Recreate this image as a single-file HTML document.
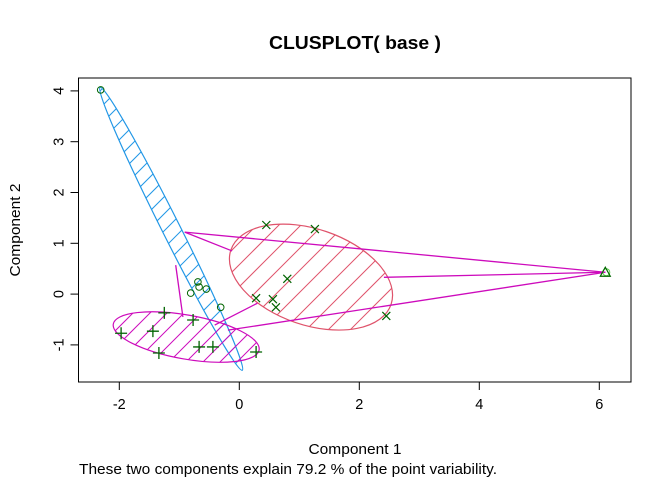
<!DOCTYPE html>
<html><head><meta charset="utf-8"><style>
body{margin:0;background:#fff;}
svg text{font-family:"Liberation Sans",Arial,sans-serif;}
</style></head><body>
<svg id="c" width="672" height="480" xmlns="http://www.w3.org/2000/svg">
<text x="355" y="49" text-anchor="middle" font-size="18" font-weight="bold" textLength="172" lengthAdjust="spacingAndGlyphs">CLUSPLOT( base )</text>
<text x="355" y="454" text-anchor="middle" font-size="15" textLength="93" lengthAdjust="spacingAndGlyphs">Component 1</text>
<text x="79" y="474" font-size="15" textLength="418" lengthAdjust="spacingAndGlyphs">These two components explain 79.2 % of the point variability.</text>
<text transform="translate(20,230) rotate(-90)" text-anchor="middle" font-size="15" textLength="93" lengthAdjust="spacingAndGlyphs">Component 2</text>
<g id="plot"></g>
</svg>
<script>
const xTicks=[-2,0,2,4,6];
const yTicks=[-1,0,1,2,3,4];
const circlesX=[-2.31,-0.69,-0.67,-0.55,-0.81,-0.31];
const circlesY=[4.02,0.24,0.14,0.10,0.02,-0.26];
const plusX=[-1.25,-1.97,-1.44,-1.34,-0.77,-0.67,-0.44,0.28];
const plusY=[-0.37,-0.77,-0.73,-1.16,-0.51,-1.04,-1.04,-1.14];
const crossX=[0.45,1.26,0.80,0.28,0.56,0.61,2.45];
const crossY=[1.36,1.28,0.30,-0.08,-0.10,-0.26,-0.43];
const triX=[6.1];
const triY=[0.43];
// ellipses: major-axis endpoints (data) and minor half-width
const ellBlue=[-2.32,4.07,0.05,-1.50,9];
const ellMag=[-2.10,-0.59,0.33,-1.10,22];
const ellRed=[-0.14,0.87,2.53,-0.20,48];
const segX1=[-0.91,-0.91,2.41,-0.19,-0.41,-1.06];
const segY1=[1.22,1.22,0.33,-0.71,-0.61,0.57];
const segX2=[6.1,-0.12,6.1,6.1,0.30,-0.94];
const segY2=[0.43,0.85,0.43,0.43,-0.18,-0.45];

const L=78.5,R=631,T=78,B=382;
const sx=v=>239.3+v*60, sy=v=>294.1-v*50.8;
const NS='http://www.w3.org/2000/svg';
const g=document.getElementById('plot');
function mk(t,a,p){const e=document.createElementNS(NS,t);for(const k in a)e.setAttribute(k,a[k]);(p||g).appendChild(e);return e;}
const defs=mk('defs',{});
function ellipse(E,col,sp,name){
  const x1=sx(E[0]),y1=sy(E[1]),x2=sx(E[2]),y2=sy(E[3]);
  const cx=(x1+x2)/2,cy=(y1+y2)/2,rx=Math.hypot(x2-x1,y2-y1)/2,ang=Math.atan2(y2-y1,x2-x1)*180/Math.PI;
  const id='cl'+name;
  const cp=mk('clipPath',{id:id},defs);
  mk('ellipse',{cx:cx,cy:cy,rx:rx,ry:E[4],transform:`rotate(${ang} ${cx} ${cy})`},cp);
  const hg=mk('g',{'clip-path':`url(#${id})`});
  
  
  for(let k=-700;k<700;k+=sp){mk('line',{x1:k,y1:500,x2:k+500,y2:0,stroke:col,'stroke-width':1},hg);}
  const e=mk('ellipse',{cx:cx,cy:cy,rx:rx,ry:E[4],transform:`rotate(${ang} ${cx} ${cy})`,fill:'none',stroke:col,'stroke-width':1.2});
  
  
}
ellipse(ellBlue,'#2297E6',17,'cluster-1-ellipse');
ellipse(ellMag,'#CD0BBC',17,'cluster-2-ellipse');
ellipse(ellRed,'#DF536B',22,'cluster-3-ellipse');
for(let i=0;i<segX1.length;i++){
  const l=mk('line',{x1:sx(segX1[i]),y1:sy(segY1[i]),x2:sx(segX2[i]),y2:sy(segY2[i]),stroke:'#CD0BBC','stroke-width':1.3});
  
  
}
const pc='#006400';
for(let i=0;i<circlesX.length;i++){
  const c=mk('circle',{cx:sx(circlesX[i]),cy:sy(circlesY[i]),r:3.3,fill:'none',stroke:pc,'stroke-width':1});
  
  
}
for(let i=0;i<plusX.length;i++){
  const x=sx(plusX[i]),y=sy(plusY[i]);
  const p=mk('path',{d:`M${x-6},${y}H${x+6}M${x},${y-6}V${y+6}`,stroke:pc,'stroke-width':1.3});
  
  
}
for(let i=0;i<crossX.length;i++){
  const x=sx(crossX[i]),y=sy(crossY[i]);
  const p=mk('path',{d:`M${x-4},${y-4}L${x+4},${y+4}M${x-4},${y+4}L${x+4},${y-4}`,stroke:pc,'stroke-width':1.2});
  
  
}
for(let i=0;i<triX.length;i++){
  const x=sx(triX[i]),y=sy(triY[i]);
  mk('circle',{cx:x+1,cy:y,r:3.5,fill:'none',stroke:'#61D04F','stroke-width':1});
  const p=mk('path',{d:`M${x},${y-5}L${x+5},${y+4}L${x-5},${y+4}Z`,fill:'none',stroke:pc,'stroke-width':1.2});
  
  
}
const box=mk('rect',{x:L,y:T,width:R-L,height:B-T,fill:'none',stroke:'#000','stroke-width':1});


xTicks.forEach(v=>{
  const x=sx(v);
  mk('line',{x1:x,y1:B,x2:x,y2:B+8,stroke:'#000'});
  const t=mk('text',{x:x,y:B+27,'text-anchor':'middle','font-size':14.5});t.textContent=v;
  
  
});
yTicks.forEach(v=>{
  const y=sy(v);
  mk('line',{x1:L-8,y1:y,x2:L,y2:y,stroke:'#000'});
  const t=mk('text',{transform:`translate(${L-15},${y}) rotate(-90)`,'text-anchor':'middle','font-size':14.5});t.textContent=v;
  
  
});
</script>
</body></html>
